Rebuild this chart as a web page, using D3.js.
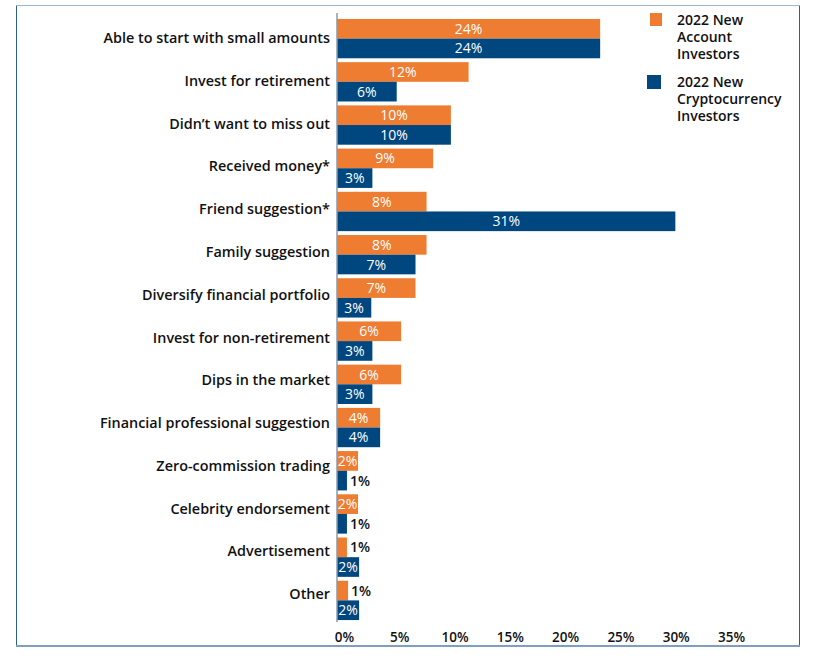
<!DOCTYPE html>
<html>
<head>
<meta charset="utf-8">
<script src="https://cdn.jsdelivr.net/npm/d3@7"></script>
<style>
  body { margin: 0; background: #fff; }
  svg { display: block; font-family: "Open Sans", "Noto Sans", sans-serif; }
</style>
</head>
<body>
<div class="chart"></div>
<script>
const W = 813, H = 661

// categories, top to bottom
const categories = [
    "Able to start with small amounts",
    "Invest for retirement",
    "Didn\u2019t want to miss out",
    "Received money*",
    "Friend suggestion*",
    "Family suggestion",
    "Diversify financial portfolio",
    "Invest for non-retirement",
    "Dips in the market",
    "Financial professional suggestion",
    "Zero-commission trading",
    "Celebrity endorsement",
    "Advertisement",
    "Other"
]

const account_values = [23.8, 11.9, 10.3, 8.7, 8.1, 8.1, 7.1, 5.8, 5.8, 3.9, 1.9, 1.9, 0.9, 1.0]
const crypto_values  = [23.8, 5.4, 10.3, 3.2, 30.6, 7.1, 3.1, 3.2, 3.2, 3.9, 0.9, 0.9, 2.0, 2.0]
const account_labels = ["24%", "12%", "10%", "9%", "8%", "8%", "7%", "6%", "6%", "4%", "2%", "2%", "1%", "1%"]
const crypto_labels  = ["24%", "6%", "10%", "3%", "31%", "7%", "3%", "3%", "3%", "4%", "1%", "1%", "2%", "2%"]

const series_names = ["2022 New Account Investors", "2022 New Cryptocurrency Investors"]
const legend_lines = [["2022 New", "Account", "Investors"], ["2022 New", "Cryptocurrency", "Investors"]]
const x_ticks = [0, 5, 10, 15, 20, 25, 30, 35]

const ORANGE = "#EE7D32", BLUE = "#00467F"

const svg = d3.select(".chart").append("svg")
    .attr("width", W)
    .attr("height", H)

// frame
svg.append("rect")
    .attr("x", 16.5).attr("y", 5.5)
    .attr("width", 783).attr("height", 640)
    .attr("fill", "none")
    .attr("stroke", "#2d5f96")
    .attr("stroke-width", 1)
svg.append("line")
    .attr("x1", 16).attr("x2", 800)
    .attr("y1", 5.5).attr("y2", 5.5)
    .attr("stroke", "#9db4cf")
svg.append("line")
    .attr("x1", 16).attr("x2", 800)
    .attr("y1", 646).attr("y2", 646)
    .attr("stroke", "#7f9fc2")
    .attr("stroke-width", 2)

const x = d3.scaleLinear().domain([0, 35]).range([337, 724])
const y = d3.scaleBand().domain(categories).range([17, 622]).paddingInner(0.09).paddingOuter(0.045)
const sub = d3.scaleBand().domain([0, 1]).range([0, y.bandwidth()])
// category labels sit on a slightly tighter grid than the bars
const y_label = d3.scalePoint().domain(categories).range([38, 594])

const rows = categories.map((c, i) => ({
    cat: c,
    bars: [
        { s: 0, v: account_values[i], label: account_labels[i] },
        { s: 1, v: crypto_values[i], label: crypto_labels[i] }
    ]
}))

const g_rows = svg.append("g").attr("id", "bars")
    .selectAll("g")
    .data(rows)
    .enter()
    .append("g")
    .attr("transform", d => "translate(0," + y(d.cat) + ")")

g_rows.selectAll("rect")
    .data(d => d.bars)
    .enter()
    .append("rect")
    .attr("x", x(0))
    .attr("y", d => sub(d.s))
    .attr("width", d => x(d.v) - x(0))
    .attr("height", sub.bandwidth())
    .attr("fill", d => d.s == 0 ? ORANGE : BLUE)

// value labels: inside (white) when the bar is wide enough, otherwise after it
g_rows.selectAll("text.value")
    .data(d => d.bars)
    .enter()
    .append("text")
    .attr("class", "value")
    .attr("y", d => sub(d.s) + sub.bandwidth() / 2)
    .attr("dy", "0.36em")
    .attr("font-size", 14)
    .each(function(d) {
        const inside = d.v >= 1.5
        d3.select(this)
            .attr("x", inside ? (x(0) + x(d.v)) / 2 : x(d.v) + 3)
            .attr("text-anchor", inside ? "middle" : "start")
            .attr("fill", inside ? "#fff" : "#111")
            .attr("font-weight", inside ? 400 : 600)
    })
    .text(d => d.label)

// category labels
svg.append("g").attr("id", "cat-labels")
    .selectAll("text")
    .data(categories)
    .enter()
    .append("text")
    .attr("x", 330)
    .attr("y", d => y_label(d))
    .attr("dy", "0.36em")
    .attr("text-anchor", "end")
    .attr("font-size", 14.4)
    .attr("font-weight", 600)
    .attr("fill", "#111")
    .text(d => d)

// vertical axis line
svg.append("line")
    .attr("x1", x(0)).attr("x2", x(0))
    .attr("y1", 13).attr("y2", 622)
    .attr("stroke", "#8a9aab")
    .attr("stroke-width", 1.5)

// x axis tick labels
const x_axis = svg.append("g")
    .attr("transform", "translate(7,623)")
    .call(d3.axisBottom(x).tickValues(x_ticks).tickSize(0).tickPadding(9).tickFormat(d => d + "%"))
x_axis.select(".domain").remove()
x_axis.selectAll("text")
    .attr("font-size", 13.5)
    .attr("font-weight", 600)
    .attr("fill", "#111")
    .style("font-family", "'Open Sans', 'Noto Sans', sans-serif")

// legend
const legend = svg.append("g").attr("id", "legend")
    .selectAll("g")
    .data(series_names)
    .enter()
    .append("g")
    .attr("transform", (d, i) => "translate(0," + (i * 62) + ")")

legend.append("rect")
    .attr("x", (d, i) => i == 0 ? 650 : 647)
    .attr("y", 13)
    .attr("width", (d, i) => i == 0 ? 12 : 14)
    .attr("height", (d, i) => i == 0 ? 13 : 14)
    .attr("fill", (d, i) => i == 0 ? ORANGE : BLUE)

legend.each(function(d, i) {
    d3.select(this).selectAll("text")
        .data(legend_lines[i])
        .enter()
        .append("text")
        .attr("x", 677)
        .attr("y", (t, j) => 25 + j * 17)
        .attr("font-size", 14)
        .attr("font-weight", 600)
        .attr("fill", "#111")
        .text(t => t)
})
</script>
</body>
</html>
